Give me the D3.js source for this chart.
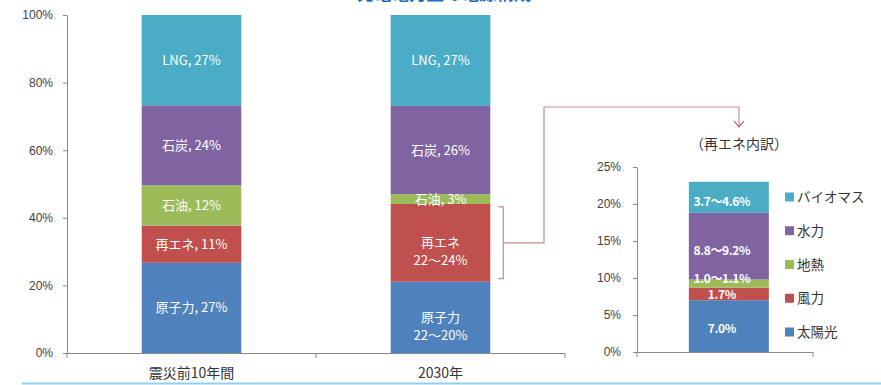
<!DOCTYPE html>
<html lang="ja">
<head>
<meta charset="UTF-8">
<title>発電電力量の電源構成</title>
<script src="https://cdnjs.cloudflare.com/ajax/libs/d3/7.8.5/d3.min.js"></script>
<style>
    body { margin: 0; background: #fff; }
    svg { display: block; font-family: "Noto Sans CJK JP", "Noto Sans", sans-serif; }
    .tick text { fill: #404040; font-size: 12px; }
    .domain, .tick line { stroke: #898989; }
    .seg-label { fill: #fff; font-size: 13px; }
    .sub-label { fill: #fff; font-size: 12px; font-weight: bold; letter-spacing: -0.4px; }
    .legend text { fill: #333; font-size: 13.5px; }
</style>
</head>
<body>
<svg id="chart" width="881" height="385"></svg>
<script>
// main chart data (percent of generation)
const categories = ["震災前10年間", "2030年"];
const sources = ["原子力", "再エネ", "石油", "石炭", "LNG"];
const sourceColors = ["#4f81bd", "#c0504d", "#9bbb59", "#8064a2", "#4bacc6"];
const values = [
    [26.7, 11.0, 11.9, 23.7, 26.7],  // 震災前10年間
    [21.1, 23.0, 2.9, 26.1, 26.9]    // 2030年
];
const labels = [
    [["原子力, 27%"], ["再エネ, 11%"], ["石油, 12%"], ["石炭, 24%"], ["LNG, 27%"]],
    [["原子力", "22〜20%"], ["再エネ", "22〜24%"], ["石油, 3%"], ["石炭, 26%"], ["LNG, 27%"]]
];
const mainTicks = [0, 20, 40, 60, 80, 100];

// renewables breakdown (2030)
const reSources = ["太陽光", "風力", "地熱", "水力", "バイオマス"];
const reValues = [7.0, 1.7, 1.1, 9.0, 4.2];
const reLabels = ["7.0%", "1.7%", "1.0〜1.1%", "8.8〜9.2%", "3.7〜4.6%"];
const reTicks = [0, 5, 10, 15, 20, 25];

const svg = d3.select("#chart");

// title, mostly cut off at the top edge (as in the source image)
svg.append("text")
    .attr("x", 444).attr("y", 0)
    .attr("text-anchor", "middle")
    .attr("fill", "#1f6fc0")
    .attr("font-size", 17.5).attr("font-weight", "bold")
    .text("発電電力量の電源構成");

// ---- main stacked chart ----
const x = d3.scaleBand().domain(categories).range([67, 565]).paddingInner(0.6).paddingOuter(0.3);
const y = d3.scaleLinear().domain([0, 100]).range([353, 15]);

svg.append("g")
    .attr("transform", "translate(67,0)")
    .call(d3.axisLeft(y).tickValues(mainTicks).tickFormat(d => d + "%").tickSize(4).tickSizeOuter(0).tickPadding(10));

const stacked = categories.map((c, ci) => {
    let acc = 0;
    return values[ci].map((v, si) => {
        const s = { cat: c, ci, si, y0: acc, y1: acc + v };
        acc += v;
        return s;
    });
}).flat();

svg.append("g").selectAll("rect")
    .data(stacked).join("rect")
    .attr("x", d => x(d.cat))
    .attr("width", x.bandwidth())
    .attr("y", d => y(d.y1))
    .attr("height", d => y(d.y0) - y(d.y1))
    .attr("fill", d => sourceColors[d.si]);

const lab = svg.append("g").selectAll("text")
    .data(stacked).join("text")
    .attr("class", "seg-label")
    .attr("text-anchor", "middle")
    .attr("x", d => x(d.cat) + x.bandwidth() / 2)
    .attr("y", d => (y(d.y0) + y(d.y1)) / 2 + 4.5);
lab.selectAll("tspan")
    .data(d => labels[d.ci][d.si].map(t => ({ t, x: x(d.cat) + x.bandwidth() / 2 })))
    .join("tspan")
    .attr("x", d => d.x)
    .attr("dy", (d, i) => i === 0 ? 0 : 18)
    .text(d => d.t);

// x axis line and boundary ticks
const xb = [67, (x(categories[0]) + x.bandwidth() + x(categories[1])) / 2, 565];
svg.append("line").attr("x1", 67).attr("x2", 565).attr("y1", 353.5).attr("y2", 353.5).attr("stroke", "#898989");
svg.append("g").selectAll("line").data(xb).join("line")
    .attr("x1", d => d).attr("x2", d => d).attr("y1", 353).attr("y2", 358).attr("stroke", "#898989");
svg.append("g").selectAll("text").data(categories).join("text")
    .attr("x", d => x(d) + x.bandwidth() / 2)
    .attr("y", 378)
    .attr("text-anchor", "middle")
    .attr("fill", "#333").attr("font-size", 14)
    .text(d => d);

// ---- bracket + connector to breakdown ----
const re = stacked.find(d => d.ci === 1 && d.si === 1);
const bx = x(categories[1]) + x.bandwidth() + 13;
const bTop = y(re.y1) + 3, bBot = y(re.y0) - 3, bMid = (y(re.y0) + y(re.y1)) / 2;
const link = "#c98a8a";
svg.append("path")
    .attr("d", `M${bx - 5},${bTop}H${bx}V${bBot}H${bx - 5}`)
    .attr("fill", "none").attr("stroke", link).attr("stroke-width", 1.2);
svg.append("path")
    .attr("d", `M${bx},${bMid}H544V107H739V127`)
    .attr("fill", "none").attr("stroke", link).attr("stroke-width", 1.2);
svg.append("path")
    .attr("d", "M734,121L739,127L744,121")
    .attr("fill", "none").attr("stroke", "#b04a4a").attr("stroke-width", 1.1);

// ---- breakdown chart ----
const x2 = d3.scaleBand().domain(["再エネ"]).range([637, 813]).paddingInner(0.5).paddingOuter(0.3).align(0.54);
const y2 = d3.scaleLinear().domain([0, 25]).range([352, 167]);

svg.append("text")
    .attr("x", 739).attr("y", 149)
    .attr("text-anchor", "middle")
    .attr("fill", "#333").attr("font-size", 14)
    .text("（再エネ内訳）");

svg.append("g")
    .attr("transform", "translate(637,0)")
    .call(d3.axisLeft(y2).tickValues(reTicks).tickFormat(d => d + "%").tickSize(4).tickSizeOuter(0).tickPadding(12));
svg.append("line").attr("x1", 637).attr("x2", 813).attr("y1", 352.5).attr("y2", 352.5).attr("stroke", "#898989");
svg.append("g").selectAll("line").data([637, 813]).join("line")
    .attr("x1", d => d).attr("x2", d => d).attr("y1", 352).attr("y2", 357).attr("stroke", "#898989");

let acc2 = 0;
const reStack = reValues.map((v, i) => {
    const s = { i, y0: acc2, y1: acc2 + v };
    acc2 += v;
    return s;
});
svg.append("g").selectAll("rect")
    .data(reStack).join("rect")
    .attr("x", x2("再エネ"))
    .attr("width", x2.bandwidth())
    .attr("y", d => y2(d.y1))
    .attr("height", d => y2(d.y0) - y2(d.y1))
    .attr("fill", d => sourceColors[d.i]);
const labOff = [6.5, 5, -0.5, 9, 8.5];
svg.append("g").selectAll("text")
    .data(reStack).join("text")
    .attr("class", "sub-label")
    .attr("text-anchor", "middle")
    .attr("x", x2("再エネ") + x2.bandwidth() / 2 - 7)
    .attr("y", d => (y2(d.y0) + y2(d.y1)) / 2 + labOff[d.i])
    .text(d => reLabels[d.i]);

// legend, top item first
const legend = svg.append("g").attr("class", "legend");
const legItems = reSources.map((s, i) => ({ s, i })).reverse();
const ly = d3.scalePoint().domain(legItems.map(d => d.s)).range([197, 332]);
legend.selectAll("rect").data(legItems).join("rect")
    .attr("x", 785).attr("y", d => ly(d.s) - 4.5)
    .attr("width", 9).attr("height", 9)
    .attr("fill", d => sourceColors[d.i]);
legend.selectAll("text").data(legItems).join("text")
    .attr("x", 797).attr("y", d => ly(d.s) + 5)
    .text(d => d.s);

// light blue rule at the bottom
svg.append("line").attr("x1", 22).attr("x2", 881).attr("y1", 383.5).attr("y2", 383.5)
    .attr("stroke", "#8fd0f0").attr("stroke-width", 2);
</script>
</body>
</html>
